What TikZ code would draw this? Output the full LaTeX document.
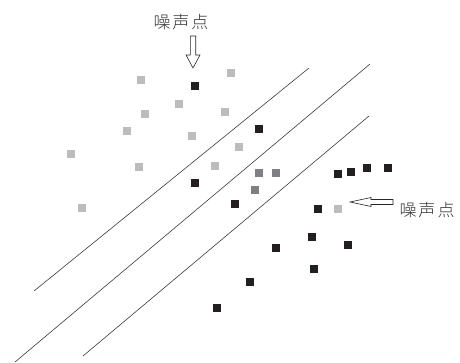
\documentclass[tikz,border=0pt]{standalone}
\usepackage{fontspec}
\newfontfamily\cjk{Noto Sans CJK SC}[UprightFont={* Light}]
\definecolor{ptblack}{HTML}{231F20}
\definecolor{ptlight}{HTML}{BBBCBE}
\definecolor{ptdark}{HTML}{7F8083}
\definecolor{sepline}{HTML}{3A3A3A}
\begin{document}
\begin{tikzpicture}[x=1pt,y=-1pt,
  pt/.style={rectangle,minimum size=8pt,inner sep=0pt,outer sep=0pt},
  blk/.style={pt,fill=ptblack},
  lgt/.style={pt,fill=ptlight},
  drk/.style={pt,fill=ptdark},
  hyper/.style={draw=sepline,line width=0.6pt},
  hollow/.style={draw=black!85,line width=0.6pt,fill=white,line join=miter},
  label/.style={font=\cjk\fontsize{17}{17}\selectfont,text=black!80,inner sep=0pt}]
\useasboundingbox (0,0) rectangle (460,363);

% separating lines
\coordinate (l1a) at (34,291);  \coordinate (l1b) at (309,68);
\coordinate (l2a) at (15,362);  \coordinate (l2b) at (370,64);
\coordinate (l3a) at (83,356);  \coordinate (l3b) at (369,116);
\draw[hyper] (l1a) -- (l1b);
\draw[hyper] (l2a) -- (l2b);
\draw[hyper] (l3a) -- (l3b);

% first class (light)
\node[lgt] (g1) at (141,80) {};
\node[lgt] (g2) at (231,73) {};
\node[lgt] (g3) at (179,104) {};
\node[lgt] (g4) at (145,114) {};
\node[lgt] (g5) at (225,112) {};
\node[lgt] (g6) at (127,131) {};
\node[lgt] (g7) at (192,136) {};
\node[lgt] (g8) at (239,147) {};
\node[lgt] (g9) at (71,154) {};
\node[lgt] (g10) at (139,167) {};
\node[lgt] (g11) at (215,166) {};
\node[lgt] (g12) at (82,208) {};
\node[lgt] (gn) at (338,209) {};

% support points (dark grey)
\node[drk] (d1) at (259,173) {};
\node[drk] (d2) at (276,173) {};
\node[drk] (d3) at (255,190) {};

% second class (black)
\node[blk] (bn) at (195,86) {};
\node[blk] (b1) at (259,129) {};
\node[blk] (b2) at (195,183) {};
\node[blk] (b3) at (235,204) {};
\node[blk] (b4) at (338,174) {};
\node[blk] (b5) at (351,172) {};
\node[blk] (b6) at (367,168) {};
\node[blk] (b7) at (388,168) {};
\node[blk] (b8) at (318,209) {};
\node[blk] (b9) at (312,237) {};
\node[blk] (b10) at (348,245) {};
\node[blk] (b11) at (276,248) {};
\node[blk] (b12) at (314,269) {};
\node[blk] (b13) at (250,282) {};
\node[blk] (b14) at (217,308) {};

% labels for the noise points
\node[label] (t1) at (181,22) {噪\hspace{2pt}声\hspace{2pt}点};
\node[label] (t2) at (427,210) {噪\hspace{2pt}声\hspace{2pt}点};

% hollow arrows pointing at the noise points
\draw[hollow] (190.3,36) -- (190.3,55) -- (186,55) -- (193,68)
  -- (200,55) -- (195.7,55) -- (195.7,36) -- cycle;
\draw[hollow] (393,199.5) -- (371,199.5) -- (371,197.5) -- (350,202)
  -- (371,206.5) -- (371,204.5) -- (393,204.5) -- cycle;
\end{tikzpicture}
\end{document}
